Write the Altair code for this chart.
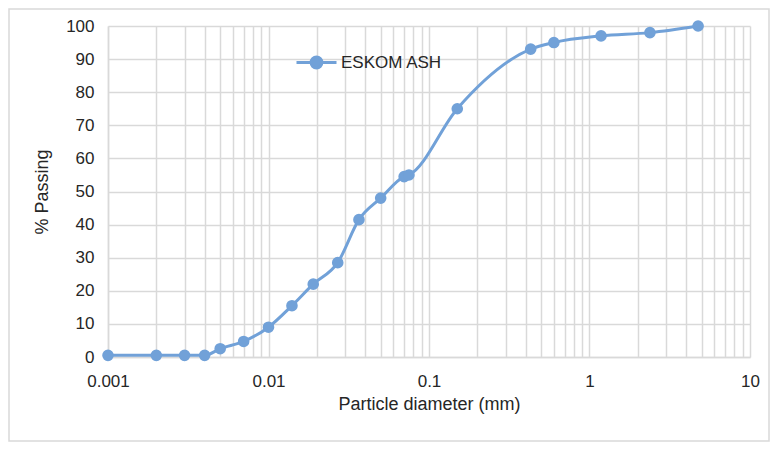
import altair as alt
import pandas as pd

series_name = "ESKOM ASH"
diameter_mm = [0.001, 0.002, 0.003, 0.004, 0.005, 0.007, 0.01, 0.014, 0.019, 0.027,
               0.0366, 0.05, 0.07, 0.075, 0.15, 0.43, 0.6, 1.18, 2.38, 4.75]
passing_pct = [0.5, 0.5, 0.5, 0.5, 2.5, 4.7, 9.0, 15.5, 22.0, 28.5,
               41.5, 48.0, 54.5, 55.0, 75.0, 93.0, 95.0, 97.0, 98.0, 100.0]
x_ticks = [0.001, 0.01, 0.1, 1, 10]
y_ticks = [0, 10, 20, 30, 40, 50, 60, 70, 80, 90, 100]
x_grid = [m * d for d in [0.001, 0.01, 0.1, 1] for m in range(1, 10)] + [10]

df = pd.DataFrame({"d": diameter_mm, "p": passing_pct, "s": [series_name] * len(diameter_mm)})

BLUE = "#71a1d8"
FONT = "Liberation Sans"
TXT = "#262626"
GRID = "#d9d9d9"

x_enc = alt.X(
    "d:Q",
    scale=alt.Scale(type="log", domain=[0.001, 10], nice=False),
    axis=alt.Axis(
        values=x_grid,
        labelExpr="abs(log(datum.value)/LN10 - round(log(datum.value)/LN10)) < 0.001 ? (datum.value >= 1 ? format(datum.value, 'd') : format(datum.value, '')) : ''",
        title="Particle diameter (mm)",
        grid=True, ticks=False, labelPadding=16, titlePadding=6,
        labelFlush=False, labelOverlap=False,
    ),
)
y_enc = alt.Y(
    "p:Q",
    scale=alt.Scale(domain=[0, 100], nice=False),
    axis=alt.Axis(values=y_ticks, title="% Passing", grid=True, ticks=False,
                  labelPadding=14, titlePadding=14, labelOverlap=False, tickCount=11),
)
color_scale = alt.Scale(domain=[series_name], range=[BLUE])
color_enc = alt.Color(
    "s:N",
    scale=color_scale,
    legend=alt.Legend(
        title=None, orient="none", legendX=187, legendY=15,
        symbolType="M-1,0L-0.27,0M0.27,0L1,0M-0.27,0A0.27,0.27 0 1,1 0.27,0A0.27,0.27 0 1,1 -0.27,0Z",
        symbolSize=1600, symbolStrokeWidth=3, symbolFillColor=BLUE, symbolStrokeColor=BLUE,
        labelFontSize=17, labelFont=FONT, labelColor=TXT, labelOffset=3, padding=0,
    ),
)

line = alt.Chart(df).mark_line(interpolate="monotone", strokeWidth=3).encode(x=x_enc, y=y_enc, color=color_enc)
pts = alt.Chart(df).mark_circle(size=135, opacity=1).encode(x=x_enc, y=y_enc, color=color_enc)

border = alt.Chart(alt.Data(values=[{}])).mark_rect(fill=None, stroke=GRID, strokeWidth=1.5).encode(
    x=alt.value(-99), x2=alt.value(661), y=alt.value(-17), y2=alt.value(415)
)

chart = alt.layer(border, line, pts).properties(
    width=642, height=331,
    autosize=alt.AutoSizeParams(type="none"),
    padding={"left": 100, "top": 18, "right": 20, "bottom": 85},
).configure_axis(
    labelFont=FONT, titleFont=FONT, labelFontSize=17, titleFontSize=18,
    labelColor=TXT, titleColor=TXT, titleFontWeight="normal",
    gridColor=GRID, gridWidth=1.5, domainColor=GRID, domainWidth=1.5,
).configure_view(stroke=None)

chart.save("out.html", embed_options={"renderer": "svg", "actions": False})
